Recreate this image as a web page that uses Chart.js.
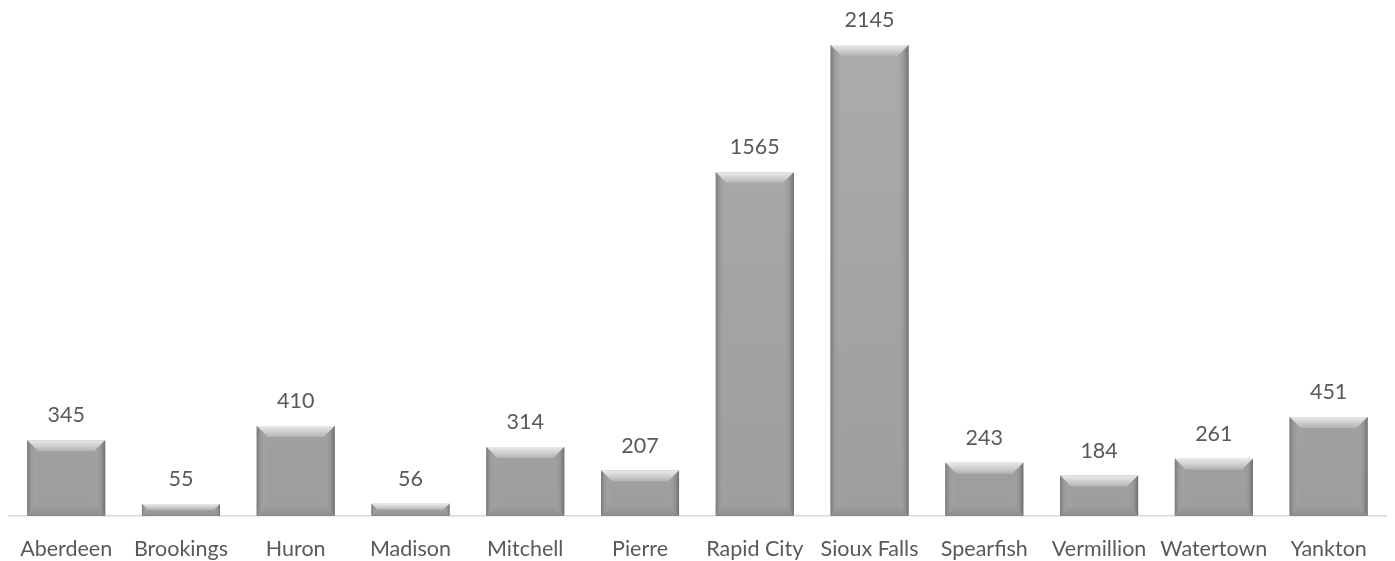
<!DOCTYPE html>
<html>
<head>
<meta charset="utf-8">
<script src="https://cdn.jsdelivr.net/npm/chart.js@4.4.1/dist/chart.umd.min.js"></script>
<style>
  html, body { margin: 0; padding: 0; background: #ffffff; }
  #wrap { width: 1395px; height: 561px; }
</style>
</head>
<body>
<div id="wrap"><canvas id="c" width="1395" height="561"></canvas></div>
<script>
const categories = ['Aberdeen','Brookings','Huron','Madison','Mitchell','Pierre','Rapid City','Sioux Falls','Spearfish','Vermillion','Watertown','Yankton'];
const values = [345, 55, 410, 56, 314, 207, 1565, 2145, 243, 184, 261, 451];

const FONT = 'Lato, "Open Sans", sans-serif';
const TEXT_COLOR = '#595959';

function fillGradient(ctx, top, bottom) {
  const g = ctx.createLinearGradient(0, top, 0, bottom);
  g.addColorStop(0, '#adadad');
  g.addColorStop(1, '#9d9d9d');
  return g;
}

const bevelPlugin = {
  id: 'bevel',
  afterDatasetsDraw(chart) {
    const ctx = chart.ctx;
    const meta = chart.getDatasetMeta(0);
    meta.data.forEach((bar) => {
      const p = bar.getProps(['x', 'y', 'base', 'width'], true);
      const L = p.x - p.width / 2, R = p.x + p.width / 2;
      const T = Math.min(p.y, p.base), B = Math.max(p.y, p.base);
      const h = B - T;
      const b = Math.min(11, h / 2);
      ctx.save();
      // top bevel
      let g = ctx.createLinearGradient(0, T, 0, T + b);
      g.addColorStop(0, '#e9e9e9');
      g.addColorStop(0.5, '#d0d0d0');
      g.addColorStop(1, '#b2b2b2');
      ctx.fillStyle = g;
      ctx.beginPath();
      ctx.moveTo(L, T); ctx.lineTo(R, T); ctx.lineTo(R - b, T + b); ctx.lineTo(L + b, T + b); ctx.closePath();
      ctx.fill();
      // bottom bevel
      g = ctx.createLinearGradient(0, B - b, 0, B);
      g.addColorStop(0, 'rgba(150,150,150,0)');
      g.addColorStop(1, '#8a8a8a');
      ctx.fillStyle = g;
      ctx.beginPath();
      ctx.moveTo(L, B); ctx.lineTo(R, B); ctx.lineTo(R - b, B - b); ctx.lineTo(L + b, B - b); ctx.closePath();
      ctx.fill();
      // left bevel
      g = ctx.createLinearGradient(L, 0, L + b, 0);
      g.addColorStop(0, '#7a7a7a');
      g.addColorStop(0.35, '#9a9a9a');
      g.addColorStop(1, 'rgba(168,168,168,0.2)');
      ctx.fillStyle = g;
      ctx.beginPath();
      ctx.moveTo(L, T); ctx.lineTo(L + b, T + b); ctx.lineTo(L + b, B - b); ctx.lineTo(L, B); ctx.closePath();
      ctx.fill();
      // right bevel
      g = ctx.createLinearGradient(R, 0, R - b, 0);
      g.addColorStop(0, '#6f6f6f');
      g.addColorStop(0.35, '#939393');
      g.addColorStop(1, 'rgba(168,168,168,0.2)');
      ctx.fillStyle = g;
      ctx.beginPath();
      ctx.moveTo(R, T); ctx.lineTo(R - b, T + b); ctx.lineTo(R - b, B - b); ctx.lineTo(R, B); ctx.closePath();
      ctx.fill();
      ctx.restore();
    });
  }
};

const labelPlugin = {
  id: 'valueLabels',
  afterDatasetsDraw(chart) {
    const ctx = chart.ctx;
    const meta = chart.getDatasetMeta(0);
    ctx.save();
    ctx.font = '21.5px ' + FONT;
    ctx.fillStyle = TEXT_COLOR;
    ctx.textAlign = 'center';
    ctx.textBaseline = 'alphabetic';
    meta.data.forEach((bar, i) => {
      ctx.fillText(String(values[i]), bar.x, bar.y - 18);
    });
    ctx.restore();
  }
};

new Chart(document.getElementById('c'), {
  type: 'bar',
  data: {
    labels: categories,
    datasets: [{
      data: values,
      backgroundColor: (c) => {
        const a = c.chart.chartArea;
        if (!a) return '#a6a6a6';
        return fillGradient(c.chart.ctx, a.top, a.bottom);
      },
      borderWidth: 0,
      barPercentage: 0.68,
      categoryPercentage: 1.0
    }]
  },
  options: {
    responsive: false,
    animation: false,
    devicePixelRatio: 1,
    layout: { padding: { left: 4, right: 9, top: 0, bottom: 0 } },
    plugins: { legend: { display: false }, tooltip: { enabled: false }, title: { display: false } },
    scales: {
      x: {
        grid: { display: false, drawTicks: false },
        border: { display: true, color: '#d9d9d9', width: 1.5 },
        ticks: { color: TEXT_COLOR, font: { family: FONT, size: 21.5 }, padding: 20, maxRotation: 0, autoSkip: false },
        afterFit: (s) => { s.height = 45; }
      },
      y: {
        display: false,
        min: 0,
        max: 2350
      }
    }
  },
  plugins: [bevelPlugin, labelPlugin]
});
</script>
</body>
</html>
